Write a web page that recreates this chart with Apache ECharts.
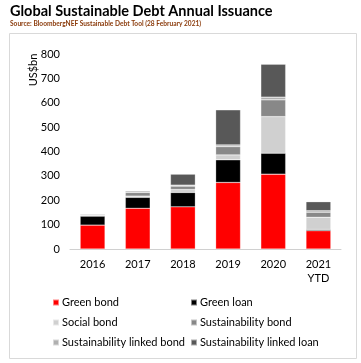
<!DOCTYPE html>
<html><head><meta charset="utf-8">
<script src="https://cdn.jsdelivr.net/npm/echarts@6/dist/echarts.min.js"></script>
<style>html,body{margin:0;padding:0;background:#fff}#c{width:361px;height:363px}</style>
</head><body><div id="c"></div>
<script>
const categories = ['2016', '2017', '2018', '2019', '2020', '2021\nYTD'];
const greenBond = [98, 167, 173, 273, 307, 75];
const greenLoan = [37, 45, 59, 93, 86, 5];
const socialBond = [2, 5, 12, 20, 150, 50];
const sustainabilityBond = [3, 15, 14, 34, 69, 21];
const sustLinkedBond = [1, 3, 4, 7, 11, 6];
const sustLinkedLoan = [3, 4, 45, 144, 135, 37];
const yTicks = [0, 100, 200, 300, 400, 500, 600, 700, 800];

const FONT = 'Lato';
const chart = echarts.init(document.getElementById('c'));
function s(name, data, color) {
  return { name, type: 'bar', stack: 'total', data, barCategoryGap: '45%',
    itemStyle: { color, borderColor: 'rgba(255,255,255,0.5)', borderWidth: 0.5 } };
}
chart.setOption({
  animation: false,
  textStyle: { fontFamily: FONT },
  graphic: [
    { type: 'rect', shape: { x: 9.5, y: 33.5, width: 347, height: 325 },
      style: { fill: 'none', stroke: '#d9d9d9', lineWidth: 1 } },
    { type: 'text', left: 10, top: 4, style: { text: 'Global Sustainable Debt Annual Issuance',
      font: 'bold 14.5px ' + FONT, fill: '#000' } },
    { type: 'text', left: 10, top: 20, style: { text: 'Source: BloombergNEF Sustainable Debt Tool (28 February 2021)',
      font: 'bold 6.6px ' + FONT, fill: '#8a3a0a' } },
    { type: 'text', x: 33, y: 70, rotation: Math.PI / 2,
      style: { text: 'US$bn', font: '11px ' + FONT, fill: '#000', align: 'center', verticalAlign: 'middle' } }
  ],
  grid: { left: 70, right: 20, top: 54, bottom: 114 },
  xAxis: { type: 'category', data: categories,
    axisLine: { lineStyle: { color: '#d0d0d0', width: 1 } },
    axisTick: { show: false },
    axisLabel: { color: '#000', fontSize: 11, margin: 8, lineHeight: 14, fontFamily: FONT } },
  yAxis: { type: 'value', min: 0, max: 800, interval: 100,
    splitLine: { show: false }, axisLine: { show: false }, axisTick: { show: false },
    axisLabel: { color: '#000', fontSize: 11, margin: 10, fontFamily: FONT,
      formatter: v => yTicks.includes(v) ? String(v) : '' } },
  legend: [
    { orient: 'vertical', left: 47, top: 292, itemWidth: 6, itemHeight: 6, itemGap: 9, icon: 'rect',
      textStyle: { fontSize: 11, color: '#000', padding: [0, 0, 0, -2], fontFamily: FONT },
      data: ['Green bond', 'Social bond', 'Sustainability linked bond'] },
    { orient: 'vertical', left: 185, top: 292, itemWidth: 6, itemHeight: 6, itemGap: 9, icon: 'rect',
      textStyle: { fontSize: 11, color: '#000', padding: [0, 0, 0, -2], fontFamily: FONT },
      data: ['Green loan', 'Sustainability bond', 'Sustainability linked loan'] }
  ],
  series: [
    s('Green bond', greenBond, '#ff0000'),
    s('Green loan', greenLoan, '#000000'),
    s('Social bond', socialBond, '#d0d0d0'),
    s('Sustainability bond', sustainabilityBond, '#888888'),
    s('Sustainability linked bond', sustLinkedBond, '#b0b0b0'),
    s('Sustainability linked loan', sustLinkedLoan, '#585858')
  ]
});
</script></body></html>
